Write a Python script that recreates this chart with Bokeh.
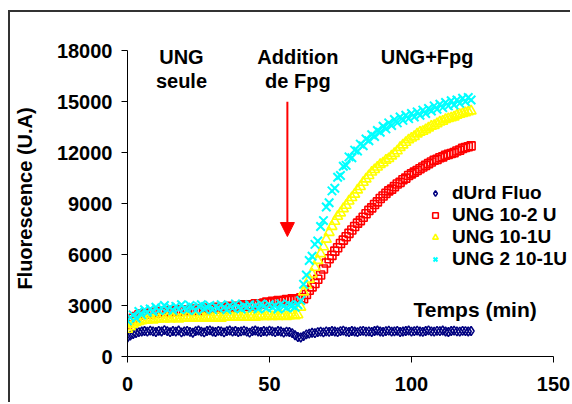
from bokeh.plotting import figure
from bokeh.models import Label, Arrow, NormalHead, FixedTicker, Legend, InlineStyleSheet
from bokeh.embed import file_html
from bokeh.resources import INLINE

time = list(range(0, 122))

durd = [1120, 1230, 1320, 1380, 1430, 1470, 1500, 1460, 1520, 1480,
        1440, 1510, 1470, 1550, 1490, 1430, 1500, 1460, 1530, 1420,
        1480, 1510, 1450, 1400, 1490, 1530, 1460, 1420, 1500, 1540,
        1470, 1440, 1510, 1480, 1420, 1490, 1530, 1460, 1500, 1440,
        1480, 1520, 1460, 1410, 1490, 1530, 1470, 1440, 1500, 1460,
        1520, 1480, 1430, 1500, 1470, 1410, 1460, 1440, 1380, 1250,
        1150, 1120, 1200, 1300, 1350, 1400, 1380, 1430, 1460, 1420,
        1480, 1450, 1500, 1470, 1430, 1490, 1520, 1460, 1440, 1500,
        1470, 1430, 1490, 1510, 1460, 1480, 1440, 1500, 1530, 1470,
        1450, 1490, 1520, 1460, 1480, 1510, 1440, 1470, 1500, 1530,
        1460, 1490, 1520, 1470, 1450, 1500, 1540, 1480, 1460, 1510,
        1490, 1530, 1470, 1440, 1500, 1520, 1480, 1460, 1510, 1490,
        1470, 1500]

ung_1e2 = [1850, 2100, 2250, 2350, 2450, 2500, 2550, 2550, 2500, 2600,
           2550, 2650, 2600, 2650, 2700, 2600, 2650, 2700, 2750, 2650,
           2700, 2750, 2700, 2800, 2750, 2700, 2800, 2850, 2750, 2800,
           2850, 2800, 2900, 2850, 2800, 2900, 2950, 2850, 2900, 2950,
           2950, 3050, 3000, 2950, 3050, 3100, 3050, 3100, 3150, 3200,
           3150, 3250, 3200, 3300, 3250, 3300, 3350, 3300, 3400, 3350,
           3400, 3450, 3400, 3650, 3900, 4100, 4300, 4550, 4800, 5150,
           5500, 5750, 5950, 6200, 6400, 6650, 6850, 7050, 7250, 7450,
           7650, 7850, 8000, 8200, 8400, 8600, 8750, 8950, 9100, 9300,
           9450, 9600, 9750, 9850, 10000, 10150, 10250, 10400, 10500, 10650,
           10750, 10850, 10950, 11050, 11150, 11250, 11350, 11450, 11550, 11600,
           11700, 11750, 11850, 11900, 11950, 12000, 12100, 12150, 12250, 12300,
           12350, 12400]

ung_1e1 = [1600, 1750, 1900, 2000, 2050, 2100, 2150, 2150, 2200, 2150,
           2200, 2200, 2250, 2200, 2250, 2200, 2250, 2250, 2200, 2250,
           2250, 2300, 2250, 2250, 2300, 2250, 2300, 2250, 2300, 2300,
           2250, 2300, 2300, 2250, 2300, 2300, 2350, 2300, 2300, 2350,
           2300, 2350, 2300, 2350, 2350, 2300, 2350, 2400, 2350, 2350,
           2400, 2350, 2400, 2350, 2400, 2400, 2350, 2400, 2450, 2400,
           2450, 2900, 3800, 4200, 4550, 4850, 5250, 5650, 6050, 6450,
           6900, 7300, 7650, 7950, 8250, 8450, 8700, 8900, 9150, 9350,
           9550, 9800, 10000, 10250, 10450, 10650, 10850, 11000, 11150, 11300,
           11400, 11550, 11650, 11800, 11950, 12100, 12300, 12450, 12600, 12750,
           12850, 12950, 13100, 13200, 13250, 13350, 13450, 13550, 13600, 13700,
           13800, 13850, 13950, 14000, 14050, 14100, 14200, 14250, 14300, 14350,
           14400, 14450]

ung2_1e1 = [2100, 2300, 2450, 2250, 2650, 2450, 2750, 2600, 2800, 2650,
            2900, 2700, 2850, 3000, 2750, 2900, 2700, 2950, 2800, 3050,
            2850, 2750, 3000, 2900, 2700, 2950, 3050, 2800, 2900, 3000,
            2750, 2950, 2850, 3050, 2900, 2750, 3000, 2850, 3100, 2900,
            2800, 3000, 2900, 3050, 2850, 3000, 2800, 3100, 2950, 2850,
            3050, 2900, 3000, 2800, 3100, 2950, 2850, 3050, 3000, 2900,
            3050, 3300, 4250, 4800, 5650, 5900, 6600, 6800, 7650, 8000,
            8800, 9050, 9750, 9900, 10550, 10650, 11200, 11250, 11750, 11700,
            12150, 12100, 12500, 12400, 12800, 12700, 13050, 12950, 13300, 13200,
            13550, 13400, 13750, 13600, 13950, 13750, 14100, 13900, 14200, 14000,
            14300, 14100, 14400, 14200, 14500, 14300, 14600, 14450, 14750, 14550,
            14850, 14650, 14950, 14750, 15050, 14800, 15100, 14900, 15200, 15000,
            15250, 15100]

series_names = ["dUrd Fluo", "UNG 10-2 U", "UNG 10-1U", "UNG 2 10-1U"]
y_ticks = [0, 3000, 6000, 9000, 12000, 15000, 18000]
x_ticks = [0, 50, 100, 150]

FONT = "Liberation Sans"

p = figure(width=570, height=402, output_backend="svg", toolbar_location=None,
           x_range=(0, 156), y_range=(0, 18600),
           min_border_left=127, min_border_right=0, min_border_top=40, min_border_bottom=46)
p.outline_line_color = None
p.grid.visible = False
p.background_fill_color = "white"
p.border_fill_color = "white"

# outer chart-area frame (left and top edges, the rest lies beyond the window)
p.stylesheets = [InlineStyleSheet(css="""
:host { position: relative; }
:host::after {
  content: "";
  position: absolute;
  left: 8px; top: 10px; right: 0px; bottom: 0px;
  border-left: 2px solid #333333;
  border-top: 2px solid #333333;
  pointer-events: none;
}
""")]

r1 = p.scatter(time, durd, marker="diamond", size=9, fill_color=None,
               line_color="#000080", line_width=1.5)
r2 = p.scatter(time, ung_1e2, marker="square", size=8, fill_color=None,
               line_color="#FF0000", line_width=1.6)
r3 = p.scatter(time, ung_1e1, marker="triangle", size=10, fill_color=None,
               line_color="#FFFF00", line_width=1.6)
r4 = p.scatter(time, ung2_1e1, marker="x", size=12,
               line_color="#00FFFF", line_width=2)

legend = Legend(items=[(series_names[0], [r1]), (series_names[1], [r2]),
                       (series_names[2], [r3]), (series_names[3], [r4])],
                location=(301, 86), padding=0, margin=0, spacing=0,
                glyph_width=14, glyph_height=20, label_height=20, label_standoff=10,
                label_text_font=FONT, label_text_font_style="bold",
                label_text_font_size="19px", label_text_color="black",
                border_line_color=None, background_fill_alpha=0)
p.add_layout(legend, "center")

for ax in (p.xaxis[0], p.yaxis[0]):
    ax.major_label_text_font = FONT
    ax.major_label_text_font_style = "bold"
    ax.major_label_text_font_size = "20px"
    ax.major_label_text_color = "black"
    ax.axis_line_color = "#000000"
    ax.major_tick_line_color = "#000000"
    ax.minor_tick_line_color = None
    ax.major_tick_in = 0
    ax.major_tick_out = 6

p.xaxis.bounds = (0, 150)
p.yaxis.bounds = (0, 18000)
p.yaxis.ticker = FixedTicker(ticks=y_ticks)
p.xaxis.ticker = FixedTicker(ticks=x_ticks)
p.yaxis.major_label_standoff = 9
p.xaxis.major_label_standoff = 14
p.yaxis.axis_label = "Fluorescence (U.A)"
p.yaxis.axis_label_text_font = FONT
p.yaxis.axis_label_text_font_style = "bold"
p.yaxis.axis_label_text_font_size = "20px"
p.yaxis.axis_label_text_color = "black"
p.yaxis.axis_label_standoff = 18

def add_label(x, y, text, align="center", size="20px"):
    p.add_layout(Label(x=x, y=y, text=text, text_align=align, text_baseline="alphabetic",
                       text_font=FONT, text_font_style="bold", text_font_size=size,
                       text_color="black"))

add_label(19, 17650, "UNG")
add_label(19, 16240, "seule")
add_label(60, 17650, "Addition")
add_label(60, 16240, "de Fpg")
add_label(105.5, 17650, "UNG+Fpg")
add_label(100.7, 2750, "Temps (min)", align="left", size="21px")

p.add_layout(Arrow(end=NormalHead(size=14, fill_color="#FF0000", line_color="#FF0000"),
                   x_start=56.3, y_start=15000, x_end=56.3, y_end=7060,
                   line_color="#FF0000", line_width=2))

open("out.html", "w").write(file_html(p, INLINE))
